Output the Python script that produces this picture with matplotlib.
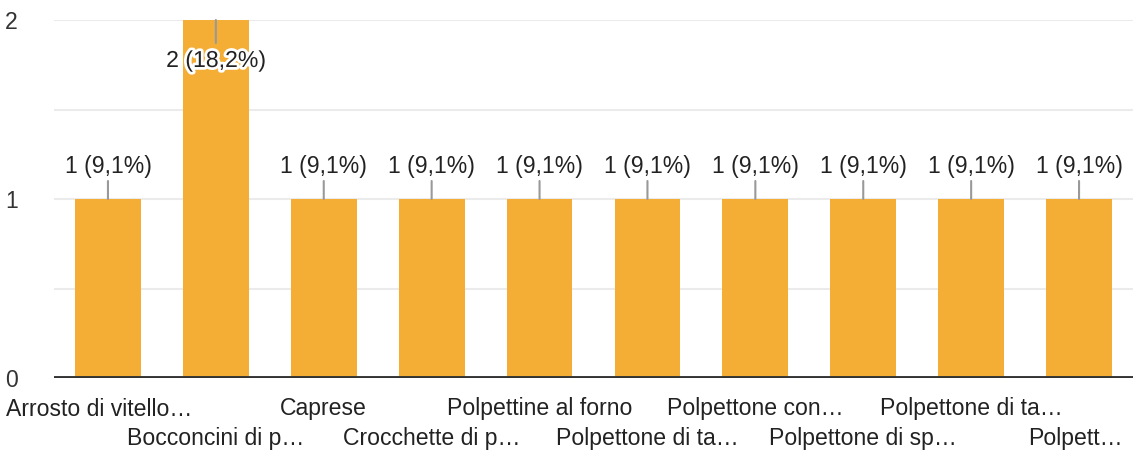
import matplotlib
matplotlib.use("Agg")
import matplotlib.pyplot as plt
import matplotlib.patheffects as pe

# dati del grafico
categorie = [
    "Arrosto di vitello…",
    "Bocconcini di p…",
    "Caprese",
    "Crocchette di p…",
    "Polpettine al forno",
    "Polpettone di ta…",
    "Polpettone con…",
    "Polpettone di sp…",
    "Polpettone di ta…",
    "Polpett…",
]
valori = [1, 2, 1, 1, 1, 1, 1, 1, 1, 1]
etichette = ["1 (9,1%)", "2 (18,2%)", "1 (9,1%)", "1 (9,1%)", "1 (9,1%)",
             "1 (9,1%)", "1 (9,1%)", "1 (9,1%)", "1 (9,1%)", "1 (9,1%)"]
y_ticks = [0, 1, 2]

plt.rcParams['font.family'] = ['Liberation Sans', 'DejaVu Sans']

ARANCIO = "#f4ae35"
TESTO = "#222222"
FS = 16.6

fig = plt.figure(figsize=(11.33, 4.55), dpi=100)
W, H = 1133, 455
ax = fig.add_axes([54 / W, (H - 378) / H, (W - 54) / W, (378 - 20) / H])

x = list(range(len(categorie)))
ax.bar(x, valori, width=0.61, color=ARANCIO, zorder=2)

ax.set_xlim(-0.5, len(categorie) - 0.5)
ax.set_ylim(0, 2)

# griglia orizzontale
for g in [0.5, 1, 1.5, 2]:
    ax.axhline(g, color="#ebebeb", lw=1.5, zorder=1)
ax.axhline(0, color="#333333", lw=2.8, zorder=3)

for s in ax.spines.values():
    s.set_visible(False)

ax.set_yticks(y_ticks)
ax.set_yticklabels([str(t) for t in y_ticks], fontsize=FS, color="#333333")
ax.tick_params(axis="y", length=0, pad=26)
ax.tick_params(axis="x", length=0)
ax.set_xticks([])

# etichette asse x su due righe alternate (la prima spostata un po' a sinistra)
for i, nome in enumerate(categorie):
    riga = 0 if i % 2 == 0 else 1
    dx = -9 if i == 0 else (-4 if i == len(categorie) - 1 else 0)
    ax.annotate(nome, xy=(i, 0), xycoords="data",
                xytext=(dx, -31 - riga * 30), textcoords="offset pixels",
                ha="center", va="center", fontsize=FS, color=TESTO,
                annotation_clip=False)

# etichette valore con linea guida
for i, (v, lab) in enumerate(zip(valori, etichette)):
    if v < max(valori):
        ax.annotate("", xy=(i, v), xytext=(0, 18), textcoords="offset pixels",
                    arrowprops=dict(arrowstyle="-", color="#999999", lw=1.5,
                                    shrinkA=0, shrinkB=0), zorder=4)
        ax.annotate(lab, xy=(i, v), xytext=(0, 26), textcoords="offset pixels",
                    ha="center", va="baseline", fontsize=FS, color=TESTO, zorder=5)
    else:
        ax.annotate("", xy=(i, v), xytext=(0, -23), textcoords="offset pixels",
                    arrowprops=dict(arrowstyle="-", color="#999999", lw=1.5,
                                    shrinkA=0, shrinkB=0), zorder=4)
        t = ax.annotate(lab, xy=(i, v), xytext=(0, -47), textcoords="offset pixels",
                        ha="center", va="baseline", fontsize=FS, color=TESTO, zorder=5)
        t.set_path_effects([pe.withStroke(linewidth=4, foreground="white")])

fig.savefig("out.png", dpi=100)
